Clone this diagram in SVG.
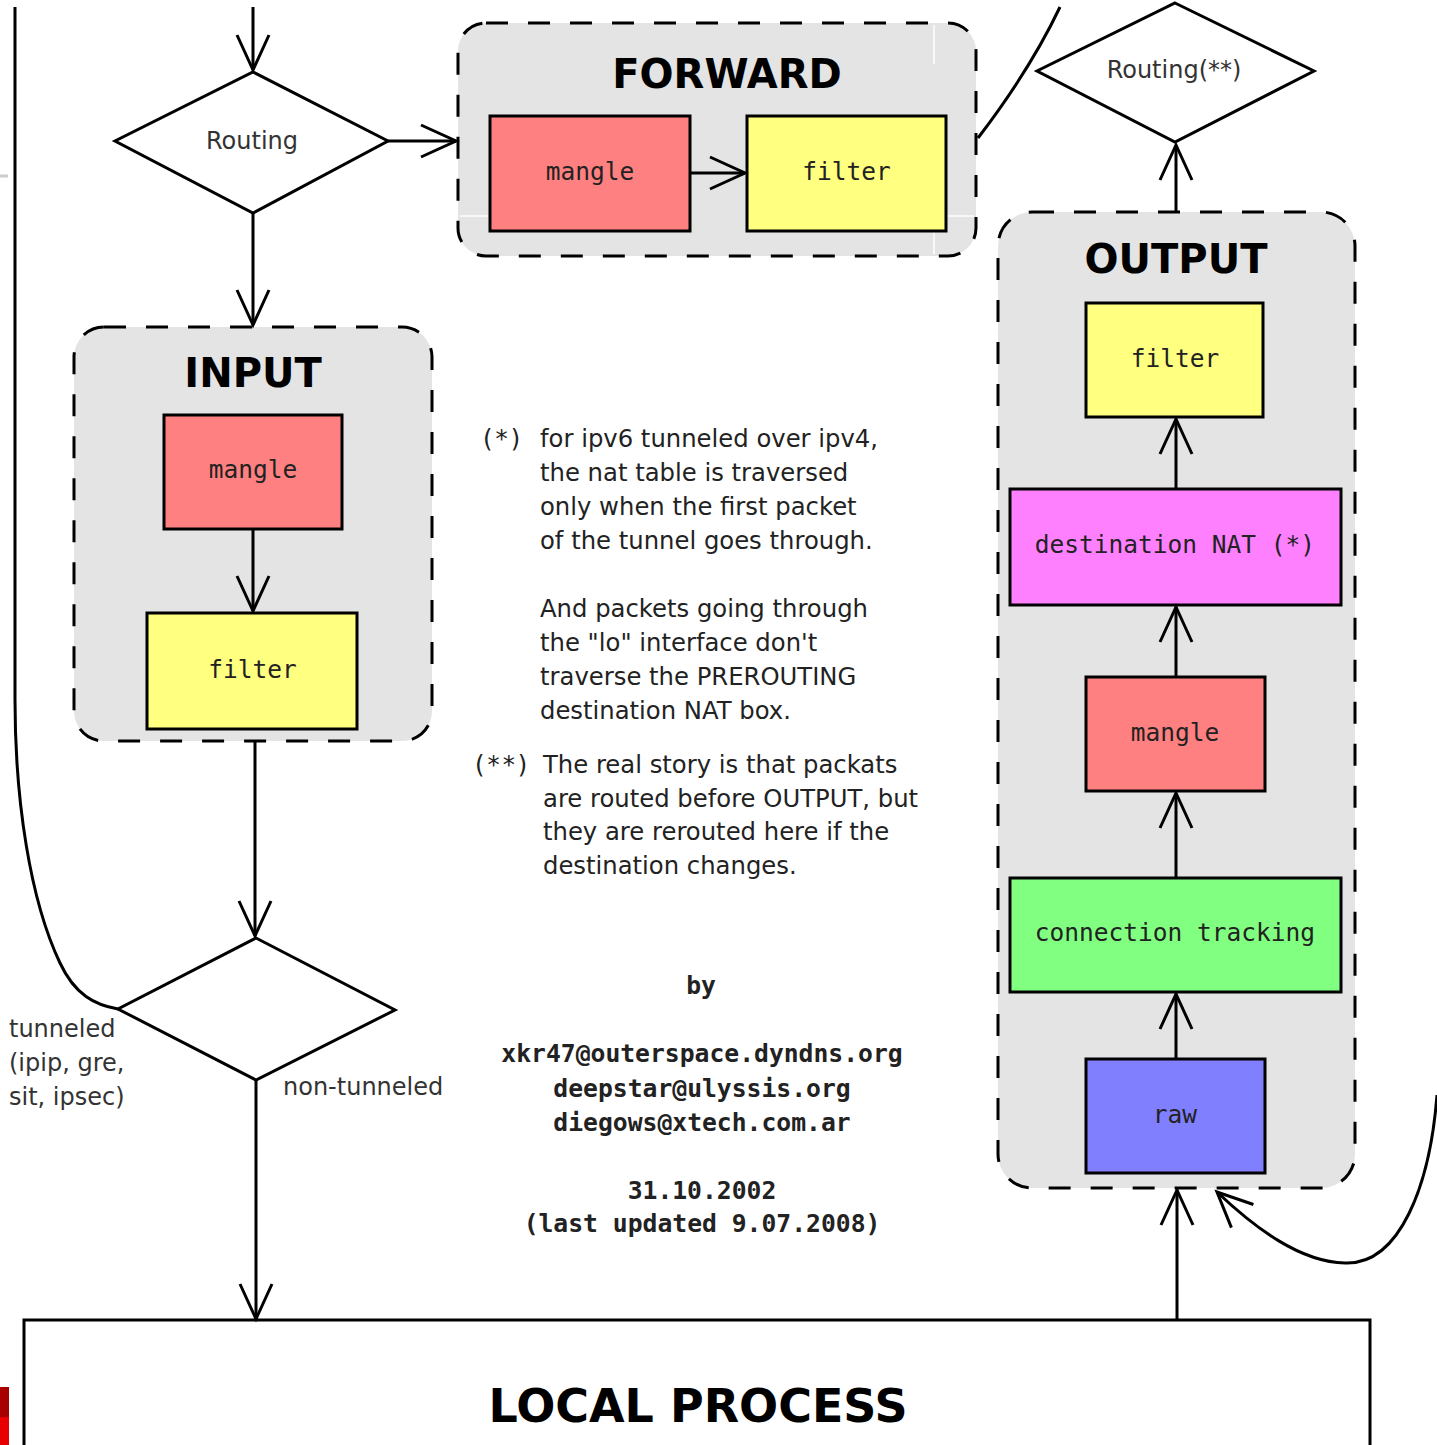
<svg xmlns="http://www.w3.org/2000/svg" width="1437" height="1445" viewBox="0 0 1437 1445">
  <style>
    .bg { fill: #ffffff; }
    .chain { fill: #e4e4e4; stroke: #000; stroke-width: 3; stroke-dasharray: 22 20; }
    .title { font-family: "DejaVu Sans", "Liberation Sans", sans-serif; font-weight: bold; font-size: 40px; fill: #000; text-anchor: middle; }
    .table { stroke: #000; stroke-width: 3; }
    .mangle { fill: #ff8080; }
    .filter { fill: #ffff80; }
    .nat { fill: #ff80ff; }
    .conntrack { fill: #80ff80; }
    .raw { fill: #8080ff; }
    .mono { font-family: "DejaVu Sans Mono", "Liberation Mono", monospace; font-size: 24.5px; fill: #222; text-anchor: middle; }
    .decision { fill: #fff; stroke: #000; stroke-width: 3; stroke-linejoin: miter; }
    .label { font-family: "DejaVu Sans", "Liberation Sans", sans-serif; font-size: 24px; fill: #333; }
    .note { font-family: "DejaVu Sans", "Liberation Sans", sans-serif; font-size: 24.3px; fill: #222; }
    .mark { letter-spacing: 3px; }
    .credit { font-family: "DejaVu Sans Mono", "Liberation Mono", monospace; font-weight: bold; font-size: 24.7px; fill: #222; text-anchor: middle; }
    .wire { fill: none; stroke: #000; stroke-width: 3; }
    .arrow { marker-end: url(#head); }
  </style>
  <defs>
    <marker id="head" markerUnits="userSpaceOnUse" markerWidth="40" markerHeight="40" viewBox="-40 -20 40 40" refX="0" refY="0" orient="auto" overflow="visible">
      <path d="M -35 -16 L 0 0 L -35 16" fill="none" stroke="#000" stroke-width="3"/>
    </marker>
  </defs>

  <rect class="bg" x="0" y="0" width="1437" height="1445"/>

  <!-- stray marks along the left border -->
  <line x1="0" y1="176" x2="8" y2="176" stroke="#cccccc" stroke-width="3"/>
  <rect x="0" y="1387" width="9" height="30" fill="#a80000"/>
  <rect x="0" y="1417" width="9" height="28" fill="#e80000"/>

  <!-- FORWARD chain -->
  <g id="forward">
    <rect class="chain" x="458" y="23" width="518" height="233" rx="28" ry="28"/>
    <line x1="934" y1="25" x2="934" y2="64" stroke="#fff" stroke-width="1.5"/>
    <line x1="934" y1="218" x2="934" y2="254" stroke="#fff" stroke-width="1.5"/>
    <line x1="460" y1="216" x2="490" y2="216" stroke="#fff" stroke-width="1.5"/>
    <line x1="946" y1="216" x2="974" y2="216" stroke="#fff" stroke-width="1.5"/>
    <text class="title" x="727" y="88">FORWARD</text>
  </g>
  <g id="forward-mangle">
    <rect class="table mangle" x="490" y="116" width="200" height="115"/>
    <text class="mono" x="590" y="180">mangle</text>
  </g>
  <g id="forward-filter">
    <rect class="table filter" x="747" y="116" width="199" height="115"/>
    <text class="mono" x="846.5" y="180">filter</text>
  </g>

  <!-- INPUT chain -->
  <g id="input">
    <rect class="chain" x="74" y="327" width="358" height="414" rx="30" ry="30"/>
    <text class="title" x="253" y="387">INPUT</text>
  </g>
  <g id="input-mangle">
    <rect class="table mangle" x="164" y="415" width="178" height="114"/>
    <text class="mono" x="253" y="478">mangle</text>
  </g>
  <g id="input-filter">
    <rect class="table filter" x="147" y="613" width="210" height="116"/>
    <text class="mono" x="252.5" y="678">filter</text>
  </g>

  <!-- OUTPUT chain -->
  <g id="output">
    <rect class="chain" x="998" y="212" width="357" height="976" rx="34" ry="34"/>
    <text class="title" x="1176" y="273">OUTPUT</text>
  </g>
  <g id="output-filter">
    <rect class="table filter" x="1086" y="303" width="177" height="114"/>
    <text class="mono" x="1175" y="367">filter</text>
  </g>
  <g id="output-nat">
    <rect class="table nat" x="1010" y="489" width="331" height="116"/>
    <text class="mono" x="1175" y="553">destination NAT (*)</text>
  </g>
  <g id="output-mangle">
    <rect class="table mangle" x="1086" y="677" width="179" height="114"/>
    <text class="mono" x="1175" y="741">mangle</text>
  </g>
  <g id="output-conntrack">
    <rect class="table conntrack" x="1010" y="878" width="331" height="114"/>
    <text class="mono" x="1175" y="941">connection tracking</text>
  </g>
  <g id="output-raw">
    <rect class="table raw" x="1086" y="1059" width="179" height="114"/>
    <text class="mono" x="1175" y="1123">raw</text>
  </g>

  <!-- routing decisions -->
  <g id="routing">
    <polygon class="decision" points="253,72 388,141 253,213 115,141"/>
    <text class="label" x="252" y="149" text-anchor="middle">Routing</text>
  </g>
  <g id="routing-output">
    <polygon class="decision" points="1175,3 1314,71 1175,142 1037,71"/>
    <text class="label" x="1174" y="78" text-anchor="middle">Routing(**)</text>
  </g>
  <g id="tunnel-check">
    <polygon class="decision" points="256,938 395,1010 256,1080 118,1009"/>
  </g>

  <!-- local process -->
  <g id="local-process">
    <rect x="24" y="1320" width="1346" height="160" fill="#fff" stroke="#000" stroke-width="3"/>
    <text class="title" x="698" y="1422" style="font-size:46px">LOCAL PROCESS</text>
  </g>

  <!-- connectors -->
  <g id="connectors">
    <path class="wire arrow" d="M 253 7 L 253 70"/>
    <path class="wire arrow" d="M 388 141 L 456 141"/>
    <path class="wire arrow" d="M 253 213 L 253 325"/>
    <path class="wire arrow" d="M 253 529 L 253 611"/>
    <path class="wire arrow" d="M 690 173 L 745 173"/>
    <path class="wire arrow" d="M 255 741 L 255 936"/>
    <path class="wire arrow" d="M 256 1080 L 256 1319"/>
    <path class="wire arrow" d="M 1177 1320 L 1177 1190"/>
    <path class="wire arrow" d="M 1176 1059 L 1176 994"/>
    <path class="wire arrow" d="M 1176 878 L 1176 793"/>
    <path class="wire arrow" d="M 1176 677 L 1176 607"/>
    <path class="wire arrow" d="M 1176 489 L 1176 419"/>
    <path class="wire arrow" d="M 1176 212 L 1176 145"/>
    <path class="wire arrow" d="M 1437 1095 C 1430 1185, 1400 1265, 1345 1263 C 1300 1262, 1255 1228, 1217 1192"/>
    <path class="wire" d="M 978 138 Q 1030 70 1060 7"/>
    <path class="wire" d="M 15 7 L 15 700 C 15 800, 30 900, 60 963 C 75 995, 95 1005, 118 1009"/>
  </g>

  <!-- branch labels -->
  <g id="branch-labels">
    <text class="label" x="9" y="1037">tunneled</text>
    <text class="label" x="9" y="1071">(ipip, gre,</text>
    <text class="label" x="9" y="1105">sit, ipsec)</text>
    <text class="label" x="283" y="1095">non-tunneled</text>
  </g>

  <!-- footnotes -->
  <g id="notes">
    <text class="note mark" x="483" y="447">(*)</text>
    <text class="note" x="540" y="447">for ipv6 tunneled over ipv4,</text>
    <text class="note" x="540" y="481">the nat table is traversed</text>
    <text class="note" x="540" y="515">only when the first packet</text>
    <text class="note" x="540" y="549">of the tunnel goes through.</text>
    <text class="note" x="540" y="617">And packets going through</text>
    <text class="note" x="540" y="651">the "lo" interface don't</text>
    <text class="note" x="540" y="685">traverse the PREROUTING</text>
    <text class="note" x="540" y="719">destination NAT box.</text>
    <text class="note mark" x="475" y="773">(**)</text>
    <text class="note" x="543" y="773">The real story is that packats</text>
    <text class="note" x="543" y="807">are routed before OUTPUT, but</text>
    <text class="note" x="543" y="840">they are rerouted here if the</text>
    <text class="note" x="543" y="874">destination changes.</text>
  </g>

  <!-- authorship -->
  <g id="credits">
    <text class="credit" x="701" y="994">by</text>
    <text class="credit" x="702" y="1062">xkr47@outerspace.dyndns.org</text>
    <text class="credit" x="702" y="1097">deepstar@ulyssis.org</text>
    <text class="credit" x="702" y="1131">diegows@xtech.com.ar</text>
    <text class="credit" x="702" y="1199">31.10.2002</text>
    <text class="credit" x="702" y="1232">(last updated 9.07.2008)</text>
  </g>
</svg>
